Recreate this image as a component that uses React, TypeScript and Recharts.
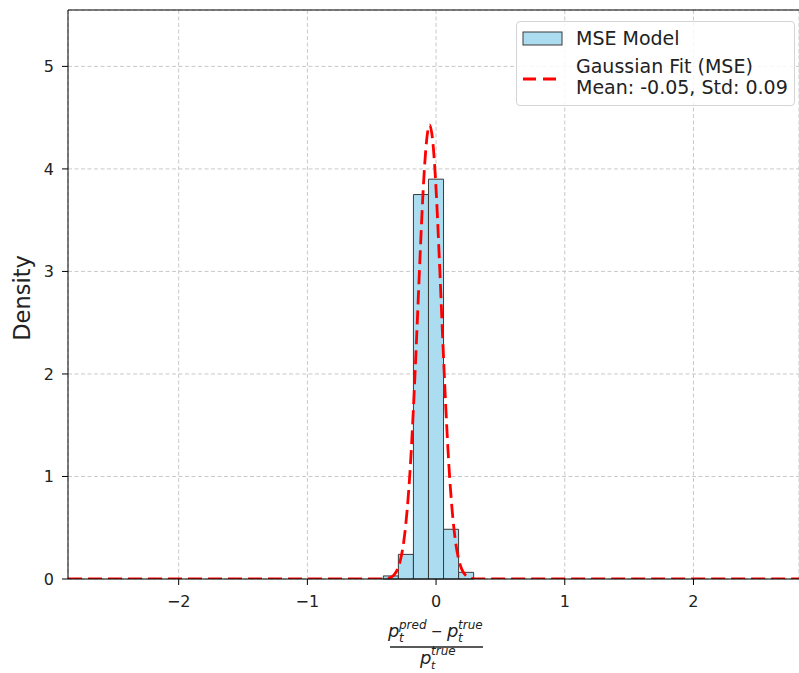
import React from 'react'
import {
  ComposedChart,
  Line,
  XAxis,
  YAxis,
  CartesianGrid,
  ReferenceArea,
  ReferenceLine
} from 'recharts'

// histogram bins of the relative error (left edge, right edge, density)
const binLeft = [-0.41, -0.293, -0.176, -0.059, 0.058, 0.175]
const binRight = [-0.293, -0.176, -0.059, 0.058, 0.175, 0.292]
const binDensity = [0.03, 0.24, 3.75, 3.9, 0.485, 0.065]

// gaussian fit curve sampled along x
const fitX = [
  -2.86, -0.5, -0.4, -0.375, -0.35, -0.325, -0.3, -0.275, -0.25, -0.225, -0.2,
  -0.175, -0.15, -0.125, -0.1, -0.075, -0.05, -0.025, 0, 0.025, 0.05, 0.075,
  0.1, 0.125, 0.15, 0.175, 0.2, 0.225, 0.25, 0.275, 0.3, 0.4, 2.82
]
const fitY = [
  0, 0, 0.002, 0.0065, 0.017, 0.042, 0.094, 0.195, 0.375, 0.67, 1.1, 1.69,
  2.39, 3.13, 3.8, 4.26, 4.43, 4.26, 3.8, 3.13, 2.39, 1.69, 1.1, 0.67, 0.375,
  0.195, 0.094, 0.042, 0.017, 0.0065, 0.002, 0, 0
]

const xTicks = [-2, -1, 0, 1, 2]
const yTicks = [0, 1, 2, 3, 4, 5]

const FONT = '"DejaVu Sans", sans-serif'
const BAR_FILL = '#abdcf0'
const BAR_EDGE = '#3a3a3a'
const FIT_COLOR = '#ff0000'

const fitData = fitX.map((x, i) => ({ x, y: fitY[i] }))

const fmt = (v: number) => (v < 0 ? '\u2212' + Math.abs(v) : String(v))

// (p_t^pred - p_t^true) / p_t^true drawn under the x axis
function FractionLabel(props: any) {
  const vb = props.viewBox || { x: 68, y: 579, width: 731 }
  const cx = 436
  const top = vb.y
  const num = top + 58
  const den = top + 85
  const it = { fontFamily: FONT, fontStyle: 'italic', fill: '#222' } as const
  return (
    <g>
      <text x={cx - 48} y={num} fontSize={18} {...it}>p</text>
      <text x={cx - 37} y={num + 5} fontSize={12} {...it}>t</text>
      <text x={cx - 37} y={num - 8} fontSize={12} {...it}>pred</text>
      <text x={cx - 5} y={num - 1} fontSize={14} fontFamily={FONT} fill="#222">{'\u2212'}</text>
      <text x={cx + 11} y={num} fontSize={18} {...it}>p</text>
      <text x={cx + 22} y={num + 5} fontSize={12} {...it}>t</text>
      <text x={cx + 22} y={num - 8} fontSize={12} {...it}>true</text>
      <line x1={cx - 46} x2={cx + 47} y1={top + 68} y2={top + 68} stroke="#222" strokeWidth={1.3} />
      <text x={cx - 16} y={den} fontSize={18} {...it}>p</text>
      <text x={cx - 5} y={den + 5} fontSize={11} {...it}>t</text>
      <text x={cx - 5} y={den - 9} fontSize={12} {...it}>true</text>
    </g>
  )
}

function DensityLabel() {
  return (
    <text
      x={22}
      y={298}
      transform="rotate(-90, 22, 298)"
      textAnchor="middle"
      dominantBaseline="central"
      fontSize={22.5}
      fontFamily={FONT}
      fill="#222"
    >
      Density
    </text>
  )
}

function LegendBox() {
  return (
    <div
      style={{
        position: 'absolute',
        left: 516,
        top: 21,
        width: 277,
        height: 83,
        border: '1px solid #d4d4d4',
        borderRadius: 4,
        background: 'rgba(255,255,255,0.85)',
        fontFamily: FONT,
        fontSize: 19,
        color: '#222'
      }}
    >
      <svg width={50} height={83} style={{ position: 'absolute', left: 0, top: 0 }}>
        <rect x={6} y={10} width={39} height={13} fill={BAR_FILL} stroke={BAR_EDGE} strokeWidth={1} />
        <line x1={6} x2={45} y1={57} y2={57} stroke={FIT_COLOR} strokeWidth={3} strokeDasharray="13 7" />
      </svg>
      <div style={{ position: 'absolute', left: 59, top: 5, lineHeight: '22px' }}>MSE Model</div>
      <div style={{ position: 'absolute', left: 59, top: 34, lineHeight: '21px', whiteSpace: 'nowrap' }}>
        Gaussian Fit (MSE)
        <br />
        Mean: -0.05, Std: 0.09
      </div>
    </div>
  )
}

export default function App() {
  return (
    <div style={{ position: 'absolute', left: 0, top: 0, width: 799, height: 673, background: '#fff' }}>
      <ComposedChart
        width={799}
        height={673}
        data={fitData}
        margin={{ top: 10, right: 0, bottom: 0, left: 8 }}
      >
        <CartesianGrid stroke="#c9c9c9" strokeDasharray="4 2.5" />
        <XAxis
          dataKey="x"
          type="number"
          domain={[-2.86, 2.82]}
          allowDataOverflow
          ticks={xTicks}
          tickFormatter={fmt}
          height={94}
          tickSize={6}
          tickMargin={11}
          stroke="#000"
          tick={{ fill: '#222', fontSize: 16, fontFamily: FONT }}
          label={<FractionLabel />}
        />
        <YAxis
          type="number"
          domain={[0, 5.55]}
          allowDataOverflow
          ticks={yTicks}
          width={60}
          tickSize={6}
          tickMargin={8}
          stroke="#000"
          tick={{ fill: '#222', fontSize: 16, fontFamily: FONT }}
          label={<DensityLabel />}
        />
        <ReferenceLine y={5.55} stroke="#000" strokeWidth={1} />
        {binDensity.map((d, i) => (
          <ReferenceArea
            key={i}
            x1={binLeft[i]}
            x2={binRight[i]}
            y1={0}
            y2={d}
            fill={BAR_FILL}
            fillOpacity={1}
            stroke={BAR_EDGE}
            strokeWidth={1}
            strokeOpacity={1}
            zIndex={100}
          />
        ))}
        <Line
          type="monotone"
          dataKey="y"
          name="Gaussian Fit (MSE)"
          stroke={FIT_COLOR}
          strokeWidth={2.8}
          strokeDasharray="14 6"
          dot={false}
          zIndex={400}
          isAnimationActive={false}
        />
      </ComposedChart>
      <LegendBox />
    </div>
  )
}
